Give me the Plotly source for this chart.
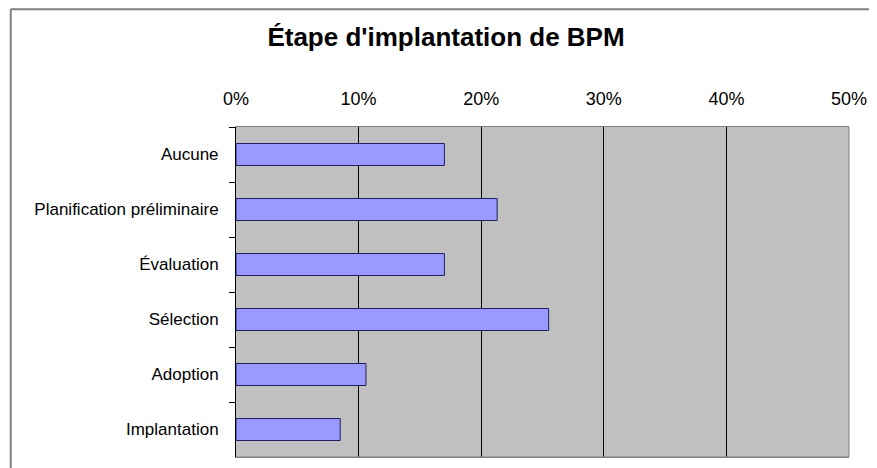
import plotly.graph_objects as go

categories = ["Aucune", "Planification préliminaire", "Évaluation", "Sélection", "Adoption", "Implantation"]
values = [0.170, 0.213, 0.170, 0.255, 0.106, 0.085]
tick_vals = [0, 0.1, 0.2, 0.3, 0.4, 0.5]
tick_text = ["0%", "10%", "20%", "30%", "40%", "50%"]
title_text = "Étape d'implantation de BPM"

W, H = 869, 460
L, T, PW, PH = 228, 119, 615, 331

fig = go.Figure(go.Bar(
    y=categories, x=values, orientation="h",
    marker=dict(color="#9999FF", line=dict(color="#202060", width=1)),
))

fig.update_layout(
    width=W, height=H,
    margin=dict(l=L, r=W - L - PW, t=T, b=H - T - PH),
    paper_bgcolor="white", plot_bgcolor="#C0C0C0",
    bargap=0.6, showlegend=False,
    font=dict(family="Liberation Sans, Arial, sans-serif", color="black"),
    title=dict(text=title_text, xref="container", x=(446 - 8) / W, y=1 - (37 - 8) / H,
               xanchor="center", yanchor="middle",
               font=dict(size=26, family="Liberation Sans, Arial, sans-serif", color="black", weight="bold")),
    xaxis=dict(side="top", range=[0, 0.5], tickvals=tick_vals, ticktext=tick_text,
               showgrid=True, gridcolor="#000000", gridwidth=1,
               showline=True, linecolor="#808080", linewidth=1, mirror=True,
               ticks="", ticklabelstandoff=14, zeroline=False,
               tickfont=dict(size=18)),
    yaxis=dict(autorange="reversed", tickson="boundaries", ticks="outside", ticklen=6,
               tickcolor="#000000", showline=True, linecolor="#000000", linewidth=1,
               showgrid=False, ticklabelstandoff=13, tickfont=dict(size=17)),
)

fx = (2 - L) / PW
fy = 1 + (T - 1) / PH
# outer chart frame (left and top edges)
fig.add_shape(type="line", xref="paper", yref="paper", x0=fx, x1=2, y0=fy, y1=fy,
              line=dict(color="#808080", width=2))
fig.add_shape(type="line", xref="paper", yref="paper", x0=fx, x1=fx, y0=-1, y1=fy,
              line=dict(color="#808080", width=2))
# gray right and bottom plot border
fig.add_shape(type="line", xref="paper", yref="paper", x0=1, x1=1, y0=0, y1=1,
              line=dict(color="#808080", width=1))
fig.add_shape(type="line", xref="paper", yref="paper", x0=0, x1=1, y0=0, y1=0,
              line=dict(color="#808080", width=1))

fig.write_html("out.html")
